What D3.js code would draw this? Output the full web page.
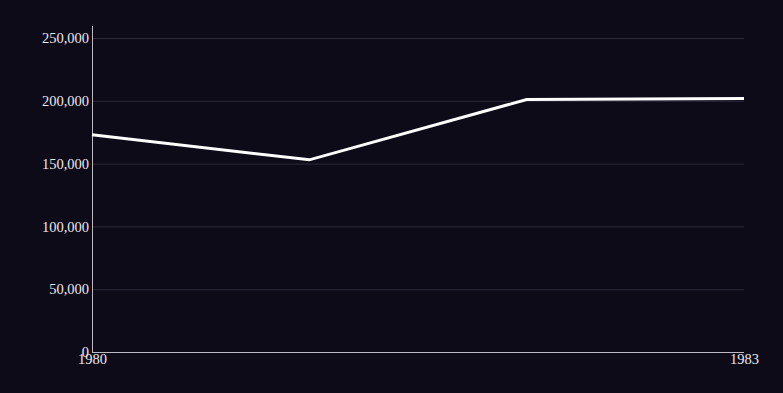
<!DOCTYPE html>
<html><head><meta charset="utf-8">
<script src="https://cdn.jsdelivr.net/npm/d3@7"></script>
<style>
html,body{margin:0;padding:0;background:#0e0b19;}
svg{display:block;}
</style></head>
<body>
<svg id="c" width="783" height="393"></svg>
<script>
const years = [1980, 1981, 1982, 1983];
const values = [173000, 153000, 201000, 201800];
const yTicks = [0, 50000, 100000, 150000, 200000, 250000];
const xTickLabels = [1980, 1983];

const W = 783, H = 393;
const m = {left: 92, right: 39, top: 38, bottom: 41};
const svg = d3.select("#c");
svg.append("rect").attr("width", W).attr("height", H).attr("fill", "#0e0b19");

const x = d3.scaleLinear().domain([1980, 1983]).range([m.left, W - m.right]);
const y = d3.scaleLinear().domain([0, 250000]).range([H - m.bottom, m.top]);
const font = "'Liberation Serif', 'DejaVu Serif', serif";

// gridlines
svg.append("g").selectAll("line").data(yTicks.filter(d => d > 0)).join("line")
  .attr("x1", m.left).attr("x2", W - m.right)
  .attr("y1", d => y(d) + 0.5).attr("y2", d => y(d) + 0.5)
  .attr("stroke", "#2c2938").attr("stroke-width", 1);

// y axis
const yAxis = svg.append("g").attr("transform", `translate(${m.left},0)`)
  .call(d3.axisLeft(y).tickValues(yTicks).tickSize(0).tickPadding(3).tickFormat(d3.format(",")));
yAxis.select(".domain").attr("stroke", "#bdbac6").attr("d", `M0.5,${m.top - 12}V${H - m.bottom}`);
yAxis.selectAll("text").attr("fill", "#ebe8ef").attr("font-family", font).attr("font-size", 14.5);

// x axis
const xAxis = svg.append("g").attr("transform", `translate(0,${H - m.bottom})`)
  .call(d3.axisBottom(x).tickValues(xTickLabels).tickSize(0).tickPadding(2).tickFormat(d3.format("d")));
xAxis.select(".domain").attr("stroke", "#bdbac6").attr("d", `M${m.left},0.5H${W - m.right}`);
xAxis.selectAll("text").attr("fill", "#ebe8ef").attr("font-family", font).attr("font-size", 14.5);

// line
const line = d3.line().x((d, i) => x(years[i])).y(d => y(d));
svg.append("path").datum(values).attr("d", line)
  .attr("fill", "none").attr("stroke", "#ffffff").attr("stroke-width", 3)
  .attr("stroke-linejoin", "miter");
</script>
</body></html>
